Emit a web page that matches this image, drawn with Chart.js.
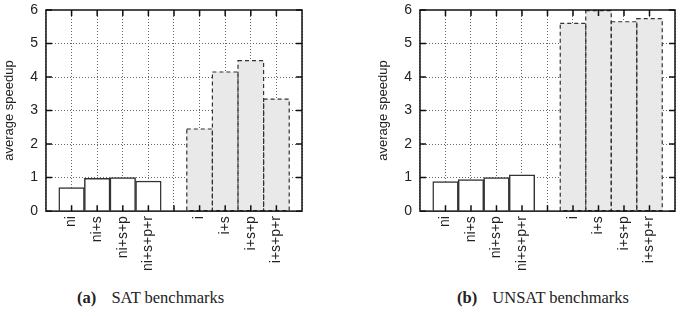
<!DOCTYPE html>
<html>
<head>
<meta charset="utf-8">
<script src="https://cdn.jsdelivr.net/npm/chart.js@4"></script>
<style>
  body { margin: 0; background: #fff; }
  #page { position: relative; width: 681px; height: 316px; overflow: hidden; }
  canvas { position: absolute; top: 0; }
  .cap { position: absolute; top: 288px; font-family: 'Liberation Serif', 'Times New Roman', serif; font-size: 16.5px; color: #222; white-space: nowrap; }
  .cap b { margin-right: 11px; }
</style>
</head>
<body>
<div id="page">
  <canvas id="satChart" width="340" height="282" style="left:0"></canvas>
  <canvas id="unsatChart" width="307" height="282" style="left:374px"></canvas>
  <div class="cap" style="left:77px"><b>(a)</b> SAT benchmarks</div>
  <div class="cap" style="left:457px"><b>(b)</b> UNSAT benchmarks</div>
</div>
<script>
Chart.defaults.font.family = "'Liberation Sans', Arial, sans-serif"
Chart.defaults.color = '#222'

// slots 0, 5 and 10 are left empty (frame edges and the gap between groups)
const categories = ['', 'ni', 'ni+s', 'ni+s+p', 'ni+s+p+r', '', 'i', 'i+s', 'i+s+p', 'i+s+p+r', '']
const yTicks = [0, 1, 2, 3, 4, 5, 6]

const satNonIncremental = [0.70, 0.98, 1.00, 0.90]
const satIncremental = [2.45, 4.15, 4.49, 3.34]

const unsatNonIncremental = [0.88, 0.94, 1.00, 1.08]
const unsatIncremental = [5.60, 5.98, 5.65, 5.74]

const padSlots = (first, second) => [null, ...first.map(() => null), null, ...second, null]
const leftSlots = (first) => [null, ...first, null, null, null, null, null, null]

// chart.js insets the axes for rotated / edge labels, we want the plot box fixed
const noPadding = scale => {
    scale.paddingLeft = 0; scale.paddingRight = 0
    scale.paddingTop = 0; scale.paddingBottom = 0
}

// frame edges are drawn by the plugin, skip the grid lines lying on them
const yGridColor = ctx => (ctx.tick && (ctx.tick.value === 0 || ctx.tick.value === 6)) ? 'rgba(0,0,0,0)' : '#666'

// gnuplot-ish frame: full box with short inward ticks, dashed outline on grey bars
const framePlugin = {
    id: 'frame',
    afterDatasetsDraw(chart) {
        const { ctx, chartArea: a, scales } = chart
        const values = chart.data.datasets[1].data

        ctx.save()
        ctx.strokeStyle = '#333'
        ctx.lineWidth = 1.2
        ctx.setLineDash([4, 3])
        chart.getDatasetMeta(1).data.forEach((bar, i) => {
            if (values[i] == null) return
            const { x, y, base, width } = bar.getProps(['x', 'y', 'base', 'width'], true)
            ctx.strokeRect(x - width / 2, y, width, base - y)
        })
        ctx.restore()

        ctx.save()
        ctx.strokeStyle = '#111'
        ctx.lineWidth = 1.5
        ctx.beginPath()
        scales.y.ticks.forEach(t => {
            const py = scales.y.getPixelForValue(t.value)
            ctx.moveTo(a.left, py); ctx.lineTo(a.left + 6, py)
            ctx.moveTo(a.right, py); ctx.lineTo(a.right - 6, py)
        })
        categories.forEach((c, i) => {
            if (i === 0 || i === categories.length - 1) return
            const px = scales.x.getPixelForValue(i)
            ctx.moveTo(px, a.top); ctx.lineTo(px, a.top + 6)
            ctx.moveTo(px, a.bottom); ctx.lineTo(px, a.bottom - 6)
        })
        ctx.stroke()
        ctx.strokeRect(a.left, a.top, a.right - a.left, a.bottom - a.top)
        ctx.restore()
    }
}

const renderSpeedupChart = (id, nonIncremental, incremental, padRight) => {

    const data = {
        labels: categories,
        datasets: [{
            data: leftSlots(nonIncremental),
            backgroundColor: '#fff',
            borderColor: '#333',
            borderWidth: 1.5
        }, {
            data: padSlots(nonIncremental, incremental),
            backgroundColor: '#e9e9e9',
            borderWidth: 0
        }]
    }

    const options = {
        responsive: false,
        animation: false,
        layout: { autoPadding: false, padding: { left: 0, right: padRight, top: 10, bottom: 6 } },
        datasets: {
            bar: { grouped: false, categoryPercentage: 1, barPercentage: 1 }
        },
        plugins: {
            legend: { display: false },
            tooltip: { enabled: false }
        },
        scales: {
            x: {
                offset: false,
                afterFit: noPadding,
                grid: { offset: false, color: '#666', lineWidth: 1, drawTicks: false },
                border: { display: false, dash: [1, 2] },
                ticks: { autoSkip: false, minRotation: 90, maxRotation: 90, padding: 5, font: { size: 14 } }
            },
            y: {
                min: 0,
                max: 6,
                afterFit: noPadding,
                afterBuildTicks: scale => { scale.ticks = yTicks.map(v => ({ value: v })) },
                grid: { color: yGridColor, lineWidth: 1, drawTicks: false },
                border: { display: false, dash: [1, 2] },
                ticks: { padding: 8, font: { size: 14 } },
                title: {
                    display: true,
                    text: 'average speedup',
                    font: { size: 13 },
                    padding: { top: 2, bottom: 4.6 }
                }
            }
        }
    }

    new Chart(id, { type: 'bar', data, options, plugins: [framePlugin] })
}

renderSpeedupChart('satChart', satNonIncremental, satIncremental, 38)
renderSpeedupChart('unsatChart', unsatNonIncremental, unsatIncremental, 6)
</script>
</body>
</html>
